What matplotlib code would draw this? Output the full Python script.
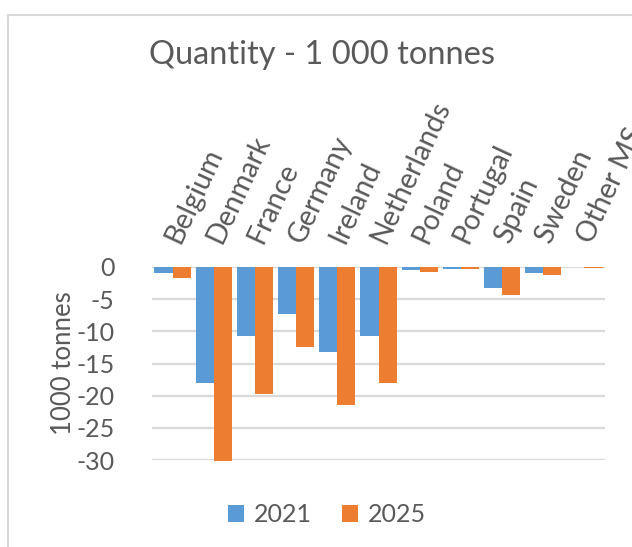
import numpy as np
import matplotlib.pyplot as plt
from matplotlib.lines import Line2D

plt.rcParams['font.family'] = ['Lato', 'DejaVu Sans']

# data (1000 tonnes)
countries = ["Belgium", "Denmark", "France", "Germany", "Ireland", "Netherlands",
             "Poland", "Portugal", "Spain", "Sweden", "Other MS"]
vals_2021 = [-0.9, -18.0, -10.7, -7.3, -13.2, -10.7, -0.5, -0.35, -3.3, -0.9, -0.05]
vals_2025 = [-1.7, -30.2, -19.7, -12.4, -21.4, -18.1, -0.7, -0.35, -4.4, -1.25, -0.1]
years = ["2021", "2025"]

blue = "#5B9BD5"
orange = "#ED7D31"
grey_text = "#595959"
grid_col = "#D9D9D9"

fig = plt.figure(figsize=(6.32, 5.47), dpi=100)
ax = fig.add_axes([152/632, 1 - 460/547, (605-152)/632, (460-267)/547])

x = np.arange(len(countries))
w = 0.44
ax.bar(x - w/2, vals_2021, w, color=blue, label=years[0], clip_on=False, zorder=3)
ax.bar(x + w/2, vals_2025, w, color=orange, label=years[1], clip_on=False, zorder=3)

ax.set_xlim(-0.5, len(countries) - 0.5)
ax.set_ylim(-30, 0)
ax.set_yticks(range(-30, 1, 5))
ax.set_yticklabels([str(v) for v in range(-30, 1, 5)])
ax.yaxis.grid(True, color=grid_col, linewidth=1.6, zorder=0)
ax.set_axisbelow(True)
for s in ax.spines.values():
    s.set_visible(False)
ax.tick_params(axis='y', length=0, pad=27, labelsize=18, labelcolor=grey_text)

ax.xaxis.tick_top()
ax.set_xticks(x)
ax.set_xticklabels(countries, rotation=65, ha='left', va='center',
                   rotation_mode='anchor', fontsize=20.5, color=grey_text)
ax.tick_params(axis='x', length=0, pad=18)

ax.set_ylabel("1000 tonnes", fontsize=18.5, color=grey_text, labelpad=0)

fig.text(322/632, 1 - 55/547, "Quantity - 1 000 tonnes", ha='center', va='center',
         fontsize=23.5, color=grey_text)

leg = fig.legend(loc='center', bbox_to_anchor=(327/632, 1 - 515/547), ncol=2,
                 frameon=False, fontsize=18, handlelength=0.65, handleheight=0.65,
                 columnspacing=1.2, handletextpad=0.4)
for t in leg.get_texts():
    t.set_color(grey_text)

# chart border (left and top edges visible in crop)
fig.add_artist(Line2D([8/632, 8/632], [0, 1 - 15/547], color=grid_col, linewidth=1.5))
fig.add_artist(Line2D([8/632, 1], [1 - 15/547, 1 - 15/547], color=grid_col, linewidth=1.5))

fig.savefig("out.png", dpi=100)
